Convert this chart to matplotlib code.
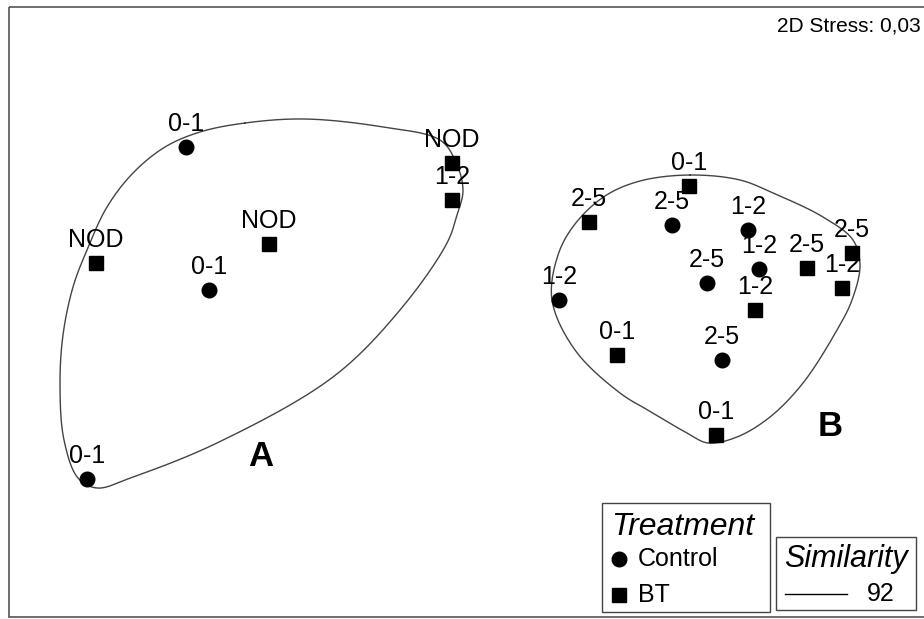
import numpy as np
import matplotlib
matplotlib.use("Agg")
import matplotlib.pyplot as plt
from matplotlib.patches import Rectangle

plt.rcParams['font.family'] = ['Liberation Sans', 'DejaVu Sans']

# NMDS ordination coordinates (in plot units, y grows downward)
ctrl_x = [186, 209, 87, 672, 748, 759, 707, 559, 722]
ctrl_y = [147, 290, 479, 225, 230, 269, 283, 300, 360]
ctrl_lab = ['0-1', '0-1', '0-1', '2-5', '1-2', '1-2', '2-5', '1-2', '2-5']

bt_x = [452, 452, 269, 96, 689, 589, 852, 807, 842, 755, 617, 716]
bt_y = [163, 200, 244, 263, 186, 222, 253, 268, 288, 310, 355, 435]
bt_lab = ['NOD', '1-2', 'NOD', 'NOD', '0-1', '2-5', '2-5', '2-5', '1-2', '1-2', '0-1', '0-1']

# similarity (92%) contours
hullA_x = [245, 305, 383, 440, 455, 463, 457, 447, 400, 333, 217, 133, 97, 78, 64, 60, 63, 73, 87, 107, 133, 165, 200]
hullA_y = [123, 119, 127, 140, 160, 190, 215, 243, 310, 377, 443, 477, 488, 478, 440, 385, 335, 287, 250, 207, 173, 147, 132]
hullB_x = [690, 740, 773, 823, 853, 860, 852, 837, 803, 770, 737, 708, 687, 653, 620, 575, 552, 558, 575, 605, 640]
hullB_y = [175, 180, 193, 217, 240, 265, 300, 330, 383, 417, 437, 443, 433, 413, 393, 350, 300, 255, 224, 196, 181]


def closed_spline(xs, ys, n=25, alpha=0.5):
    # centripetal Catmull-Rom through the contour points
    p = np.column_stack([xs, ys]).astype(float)
    k = len(p)
    out = []
    for i in range(k):
        P0, P1, P2, P3 = p[(i - 1) % k], p[i], p[(i + 1) % k], p[(i + 2) % k]
        t0 = 0.0
        t1 = t0 + np.linalg.norm(P1 - P0) ** alpha
        t2 = t1 + np.linalg.norm(P2 - P1) ** alpha
        t3 = t2 + np.linalg.norm(P3 - P2) ** alpha
        t = np.linspace(t1, t2, n, endpoint=False)[:, None]
        A1 = (t1 - t) / (t1 - t0) * P0 + (t - t0) / (t1 - t0) * P1
        A2 = (t2 - t) / (t2 - t1) * P1 + (t - t1) / (t2 - t1) * P2
        A3 = (t3 - t) / (t3 - t2) * P2 + (t - t2) / (t3 - t2) * P3
        B1 = (t2 - t) / (t2 - t0) * A1 + (t - t0) / (t2 - t0) * A2
        B2 = (t3 - t) / (t3 - t1) * A2 + (t - t1) / (t3 - t1) * A3
        out.append((t2 - t) / (t2 - t1) * B1 + (t - t1) / (t2 - t1) * B2)
    out = np.vstack(out + [out[0][:1]])
    return out[:, 0], out[:, 1]


fig = plt.figure(figsize=(9.24, 6.19), dpi=100)
ax = fig.add_axes([0, 0, 1, 1])
ax.set_xlim(0, 924)
ax.set_ylim(619, 0)
ax.axis('off')

# frame
ax.add_patch(Rectangle((9, 7), 930, 610, fill=False, edgecolor='#555555', lw=1.2))

for hx, hy in [(hullA_x, hullA_y), (hullB_x, hullB_y)]:
    sx, sy = closed_spline(hx, hy)
    ax.plot(sx, sy, color='#444444', lw=1.0)

ax.plot(ctrl_x, ctrl_y, 'o', color='black', ms=10.5, ls='none')
ax.plot(bt_x, bt_y, 's', color='black', ms=9.5, ls='none')

for x, y, t in zip(ctrl_x + bt_x, ctrl_y + bt_y, ctrl_lab + bt_lab):
    ax.text(x, y - 11, t, ha='center', va='bottom', fontsize=18)

ax.text(261, 457, 'A', fontsize=25, fontweight='bold', ha='center', va='center')
ax.text(830, 427, 'B', fontsize=25, fontweight='bold', ha='center', va='center')
ax.text(921, 26, '2D Stress: 0,03', fontsize=15, ha='right', va='center')

# legend boxes
ax.add_patch(Rectangle((602, 503), 168, 109, fill=False, edgecolor='#444444', lw=1.0))
ax.text(611, 527, 'Treatment', fontsize=23, style='italic', ha='left', va='center')
ax.plot([619], [559], 'o', color='black', ms=10.5)
ax.text(638, 559, 'Control', fontsize=18, ha='left', va='center')
ax.plot([619], [595], 's', color='black', ms=9.5)
ax.text(638, 595, 'BT', fontsize=18, ha='left', va='center')

ax.add_patch(Rectangle((776, 537), 140, 73, fill=False, edgecolor='#444444', lw=1.0))
ax.text(784, 559, 'Similarity', fontsize=22, style='italic', ha='left', va='center')
ax.plot([785, 847], [594, 594], color='black', lw=1.0)
ax.text(867, 594, '92', fontsize=18, ha='left', va='center')

fig.savefig('out.png', dpi=100)
